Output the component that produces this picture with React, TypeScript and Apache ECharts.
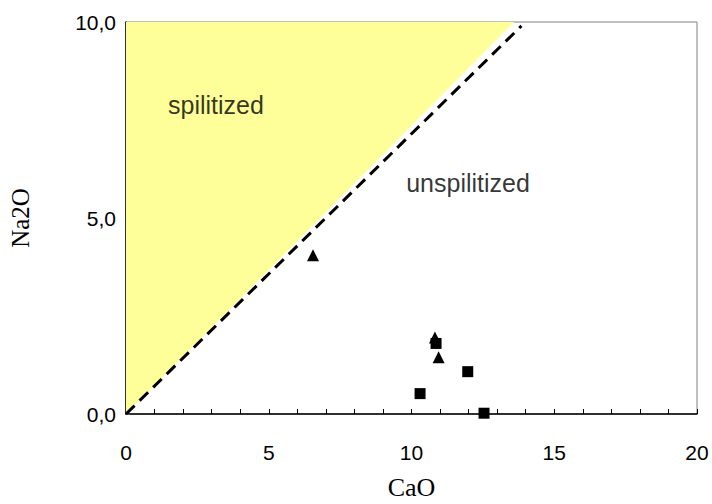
import React, { useEffect, useRef } from "react";
import * as echarts from "echarts";

// Sample compositions (wt %)
const triangleCaO = [6.55, 10.82, 10.95];
const triangleNa2O = [4.05, 1.95, 1.45];
const squareCaO = [10.86, 11.97, 10.3, 12.54];
const squareNa2O = [1.8, 1.08, 0.52, 0.02];

// Spilitization boundary and field outline
const boundaryLine = [
  [0, 0],
  [13.85, 9.9],
];
const spilitizedField = [
  [0, 0],
  [0, 10],
  [13.6, 10],
];

// Field names placed at data coordinates
const fieldLabels = [
  { name: "spilitized", value: [3.15, 7.88] },
  { name: "unspilitized", value: [11.98, 5.9] },
];

export default function App() {
  const ref = useRef<HTMLDivElement>(null);

  useEffect(() => {
    if (!ref.current) return;
    const chart = echarts.init(ref.current, null, { renderer: "svg" });
    chart.setOption({
      animation: false,
      backgroundColor: "#ffffff",
      grid: {
        left: 126,
        right: 15,
        top: 22,
        bottom: 90,
        outerBoundsMode: "none",
        containLabel: false,
        show: true,
        borderColor: "#808080",
        borderWidth: 1,
      },
      xAxis: {
        type: "value",
        min: 0,
        max: 20,
        interval: 5,
        name: "CaO",
        nameLocation: "middle",
        nameGap: 60,
        nameTextStyle: { fontFamily: "Liberation Serif", fontSize: 26, color: "#000" },
        axisLine: { show: true, onZero: false, lineStyle: { color: "#000", width: 1.5 } },
        axisTick: { show: true, inside: true, length: 5, lineStyle: { color: "#000" } },
        minorTick: { show: true, splitNumber: 5, length: 5, lineStyle: { color: "#000" } },
        splitLine: { show: false },
        axisLabel: {
          margin: 28,
          fontFamily: "Liberation Sans",
          fontSize: 21,
          color: "#000",
        },
      },
      yAxis: {
        type: "value",
        min: 0,
        max: 10,
        interval: 5,
        name: "Na2O",
        nameLocation: "middle",
        nameGap: 93,
        nameTextStyle: { fontFamily: "Liberation Serif", fontSize: 25, color: "#000" },
        axisLine: { show: true, onZero: false, lineStyle: { color: "#000", width: 1.5 } },
        axisTick: { show: true, inside: true, length: 4, lineStyle: { color: "#555" } },
        splitLine: { show: false },
        axisLabel: {
          margin: 10,
          fontFamily: "Liberation Sans",
          fontSize: 21,
          color: "#000",
          formatter: (v: number) => v.toFixed(1).replace(".", ","),
        },
      },
      series: [
        {
          type: "custom",
          silent: true,
          z: 1,
          data: [0],
          renderItem: (_params: any, api: any) => {
            const pts = spilitizedField.map((p) => api.coord(p));
            return {
              type: "polygon",
              shape: { points: pts },
              style: { fill: "#FFFF99", stroke: "none" },
            };
          },
        },
        {
          type: "line",
          z: 3,
          data: boundaryLine,
          showSymbol: false,
          symbol: "none",
          lineStyle: { color: "#000", width: 3, type: [12, 7] },
        },
        {
          type: "scatter",
          z: 4,
          symbol: "triangle",
          symbolSize: [12, 12],
          itemStyle: { color: "#000", opacity: 1 },
          data: triangleCaO.map((x, i) => [x, triangleNa2O[i]]),
        },
        {
          type: "scatter",
          z: 4,
          symbol: "rect",
          symbolSize: 11,
          itemStyle: { color: "#000", opacity: 1 },
          data: squareCaO.map((x, i) => [x, squareNa2O[i]]),
        },
        {
          type: "scatter",
          z: 5,
          symbolSize: 0,
          silent: true,
          data: fieldLabels,
          label: {
            show: true,
            position: "inside",
            formatter: (p: any) => p.name,
            fontFamily: "Liberation Sans",
            fontSize: 25,
            color: "#000",
          },
        },
      ],
    });
    return () => chart.dispose();
  }, []);

  return (
    <div
      ref={ref}
      style={{ position: "absolute", left: 0, top: 0, width: 712, height: 504 }}
    />
  );
}
